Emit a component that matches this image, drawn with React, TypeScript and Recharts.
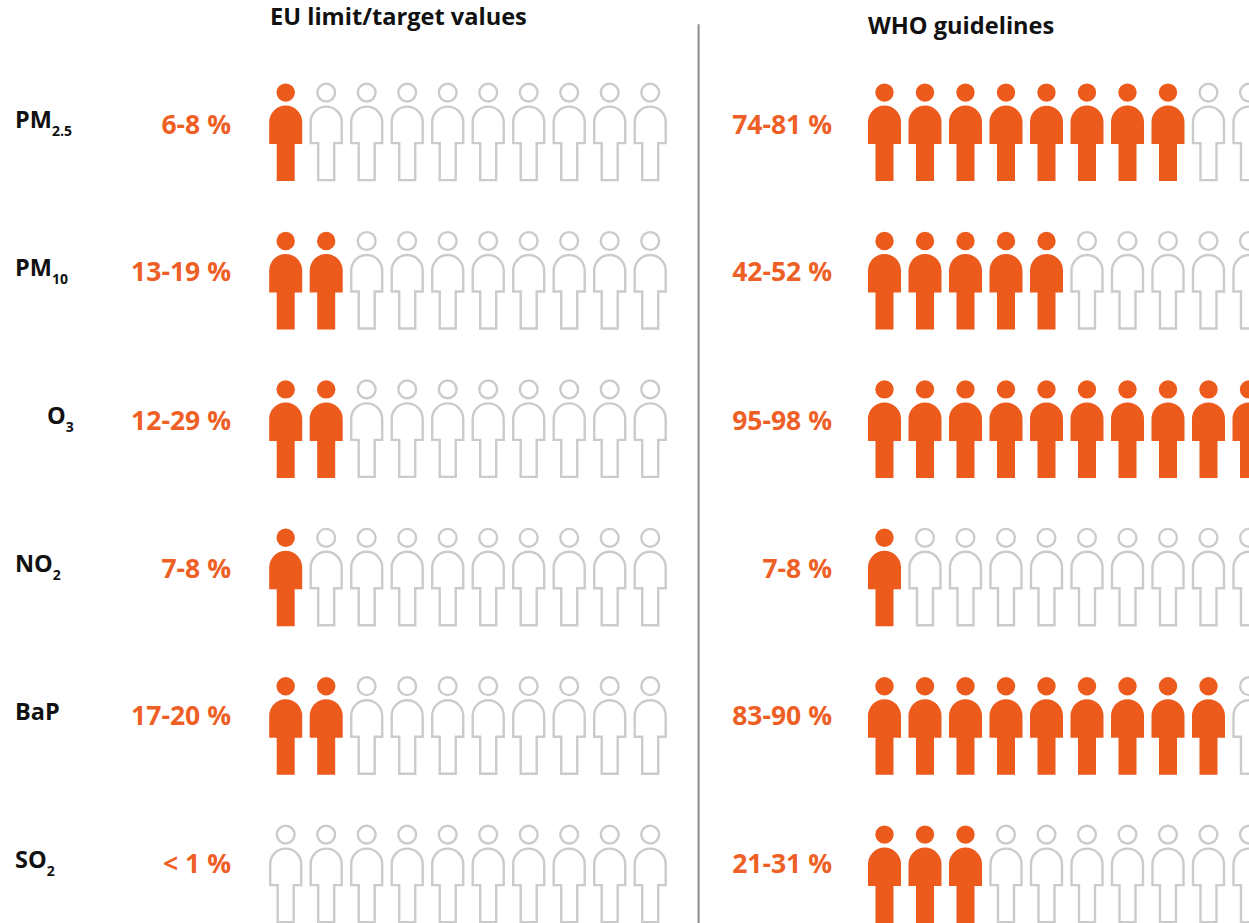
import { ScatterChart, Scatter, XAxis, YAxis, ReferenceLine } from 'recharts'

const pollutants = ['PM', 'PM', 'O', 'NO', 'BaP', 'SO']
const subscripts = ['2.5', '10', '3', '2', '', '2']

// share of urban population above the limit, low and high end of the range (%)
const euLow = [6, 13, 12, 7, 17, 0]
const euHigh = [8, 19, 29, 8, 20, 1]
const whoLow = [74, 42, 95, 7, 83, 21]
const whoHigh = [81, 52, 98, 8, 90, 31]

const PEOPLE = 10
const ORANGE = '#ec5a1c'
const TEXT_ORANGE = '#ee5f26'
const GREY = '#cbcbcb'
const FONT = '"Open Sans", sans-serif'

const WIDTH = 1249
const HEIGHT = 923
const SLOT_PX = 40.5
const ROW_PX = 148.4
const ORIGIN_X = 285.7
const ORIGIN_Y = 92.6

const WHO_OFFSET = 14.785
const EU_LABEL_X = -1.35
const WHO_LABEL_X = 13.49
const DIVIDER_X = 10.195

const Y_MIN = -ORIGIN_Y / ROW_PX
const Y_MAX = (HEIGHT - ORIGIN_Y) / ROW_PX

// text rows are not quite on the same pitch as the figures
const rateNudge = [0, -1.5, -1, -2, -3, -3.5]
const nameNudge = [1, 0.3, -0.5, -0.5, -1, -1.6]

const filledCount = (low: number, high: number) => Math.round((low + high) / 20)
const rangeLabel = (low: number, high: number) =>
  low === 0 ? `< ${high} %` : `${low}-${high} %`

type Person = { x: number; y: number; filled: boolean }

const buildPeople = (low: number[], high: number[], offset: number): Person[] =>
  low.flatMap((l, row) =>
    Array.from({ length: PEOPLE }, (_, slot) => ({
      x: slot + offset,
      y: row,
      filled: slot < filledCount(l, high[row]),
    })),
  )

const people = [...buildPeople(euLow, euHigh, 0), ...buildPeople(whoLow, whoHigh, WHO_OFFSET)]

const rateLabels = [
  ...euLow.map((l, row) => ({ x: EU_LABEL_X, y: row, label: rangeLabel(l, euHigh[row]) })),
  ...whoLow.map((l, row) => ({ x: WHO_LABEL_X, y: row, label: rangeLabel(l, whoHigh[row]) })),
]

// head centre sits on the data point, the body hangs below it
function PersonShape({ cx, cy, filled }: any) {
  const inset = filled ? 0 : 1
  const half = 16.5 - inset
  const leg = 9 - inset
  const shoulder = 29.5
  const armEnd = 51.5 - inset
  const foot = 88.5 - inset
  const d = [
    `M ${cx - half} ${cy + shoulder}`,
    `A ${half} ${half} 0 0 1 ${cx + half} ${cy + shoulder}`,
    `L ${cx + half} ${cy + armEnd}`,
    `L ${cx + leg} ${cy + armEnd}`,
    `L ${cx + leg} ${cy + foot}`,
    `L ${cx - leg} ${cy + foot}`,
    `L ${cx - leg} ${cy + armEnd}`,
    `L ${cx - half} ${cy + armEnd}`,
    'Z',
  ].join(' ')
  const paint = filled
    ? { fill: ORANGE, stroke: 'none' }
    : { fill: '#fff', stroke: GREY, strokeWidth: 2.4 }
  return (
    <g>
      <circle cx={cx} cy={cy} r={filled ? 9.2 : 8.9} {...paint} />
      <path d={d} {...paint} />
    </g>
  )
}

function RateLabel({ cx, cy, label, payload }: any) {
  return (
    <text
      x={cx}
      y={cy + 41.7 + rateNudge[payload.y]}
      textAnchor="end"
      fontFamily={FONT}
      fontWeight={700}
      fontSize={26.5}
      fill={TEXT_ORANGE}
    >
      {label}
    </text>
  )
}

function PollutantTick({ y, payload }: any) {
  const row = payload.value
  const left = pollutants[row] === 'O' ? 47 : 15
  return (
    <text
      x={left}
      y={y + 34.7 + nameNudge[row]}
      textAnchor="start"
      fontFamily={FONT}
      fontWeight={700}
      fontSize={23.5}
      fill="#111"
    >
      {pollutants[row]}
      {subscripts[row] && (
        <tspan dy={8} fontSize={14}>
          {subscripts[row]}
        </tspan>
      )}
    </text>
  )
}

export default function App() {
  return (
    <div style={{ position: 'absolute', left: 0, top: 0, width: WIDTH, height: HEIGHT, overflow: 'hidden' }}>
      <ScatterChart width={WIDTH} height={HEIGHT} margin={{ top: 0, right: 0, bottom: 0, left: 0 }}>
        <XAxis
          type="number"
          dataKey="x"
          hide
          domain={[-ORIGIN_X / SLOT_PX, (WIDTH - ORIGIN_X) / SLOT_PX]}
        />
        <YAxis
          type="number"
          dataKey="y"
          reversed
          mirror
          width={60}
          domain={[Y_MIN, Y_MAX]}
          ticks={pollutants.map((_, row) => row)}
          interval={0}
          axisLine={false}
          tickLine={false}
          tick={<PollutantTick />}
        />
        <ReferenceLine
          segment={[
            { x: DIVIDER_X, y: -0.46 },
            { x: DIVIDER_X, y: Y_MAX },
          ]}
          stroke="#959595"
          strokeWidth={2.2}
        />
        <Scatter
          data={people}
          isAnimationActive={false}
          shape={(props: any) => <PersonShape {...props} />}
        />
        <Scatter
          data={rateLabels}
          isAnimationActive={false}
          shape={(props: any) => <RateLabel {...props} />}
        />
        <text x={270} y={25} fontFamily={FONT} fontWeight={700} fontSize={23.6} fill="#111">
          EU limit/target values
        </text>
        <text x={868} y={34} fontFamily={FONT} fontWeight={700} fontSize={23.6} fill="#111">
          WHO guidelines
        </text>
      </ScatterChart>
    </div>
  )
}
